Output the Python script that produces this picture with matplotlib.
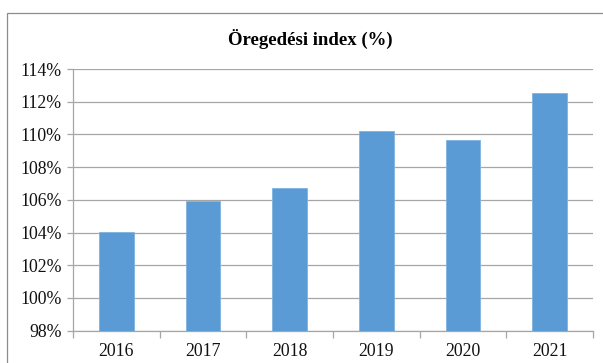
import matplotlib
matplotlib.use("Agg")
import matplotlib.pyplot as plt
from matplotlib.patches import Rectangle
from matplotlib.ticker import FuncFormatter, FixedLocator
import numpy as np

years = ["2016", "2017", "2018", "2019", "2020", "2021"]
index_pct = [104.0, 105.94, 106.74, 110.22, 109.63, 112.53]
y_ticks = [98, 100, 102, 104, 106, 108, 110, 112, 114]
title = "Öregedési index (%)"

W, H, DPI = 603, 363, 100
fig = plt.figure(figsize=(W / DPI, H / DPI), dpi=DPI)
fig.patch.set_facecolor("white")

# chart frame (left and top edges visible)
frame = Rectangle((7 / W, -0.05), 1.2, (H - 13) / H + 0.05, transform=fig.transFigure,
                  fill=False, edgecolor="#8c8c8c", linewidth=0.9)
fig.add_artist(frame)

ax = fig.add_axes([73 / W, (H - 330.6) / H, (593 - 73) / W, (330.6 - 69) / H])

x = np.arange(len(years))
ax.bar(x, [v - y_ticks[0] for v in index_pct], bottom=y_ticks[0], width=0.40,
       color="#5B9BD5", edgecolor="#7fb3e0", linewidth=0.6, zorder=3)

ax.set_xlim(-0.5, len(years) - 0.5)
ax.set_ylim(y_ticks[0], y_ticks[-1])
ax.set_yticks(y_ticks)
ax.yaxis.set_major_formatter(FuncFormatter(lambda v, p: f"{v:.0f}%"))
ax.set_xticks(x)
ax.set_xticklabels(years)
ax.xaxis.set_minor_locator(FixedLocator(np.arange(-0.5, len(years), 1.0)))

ax.grid(axis="y", color="#a6a6a6", linewidth=0.9, zorder=0)
for side in ["top", "right"]:
    ax.spines[side].set_visible(False)
ax.spines["left"].set_color("#a6a6a6")
ax.spines["bottom"].set_color("#a6a6a6")
ax.spines["left"].set_linewidth(0.9)
ax.spines["bottom"].set_linewidth(0.9)

serif = ["Liberation Serif", "DejaVu Serif"]
ax.tick_params(axis="y", length=4, color="#a6a6a6", width=0.9, pad=4,
               labelsize=12.8, labelcolor="#111111")
ax.tick_params(axis="x", which="major", length=0, pad=9, labelsize=12.8, labelcolor="#111111")
ax.tick_params(axis="x", which="minor", length=5, color="#a6a6a6", width=0.9)
for lbl in ax.get_xticklabels() + ax.get_yticklabels():
    lbl.set_fontfamily(serif)

fig.text(310 / W, (H - 39) / H, title, ha="center", va="center",
         fontsize=13.5, fontweight="bold", family=serif, color="#000000")

fig.savefig("out.png", dpi=DPI)
